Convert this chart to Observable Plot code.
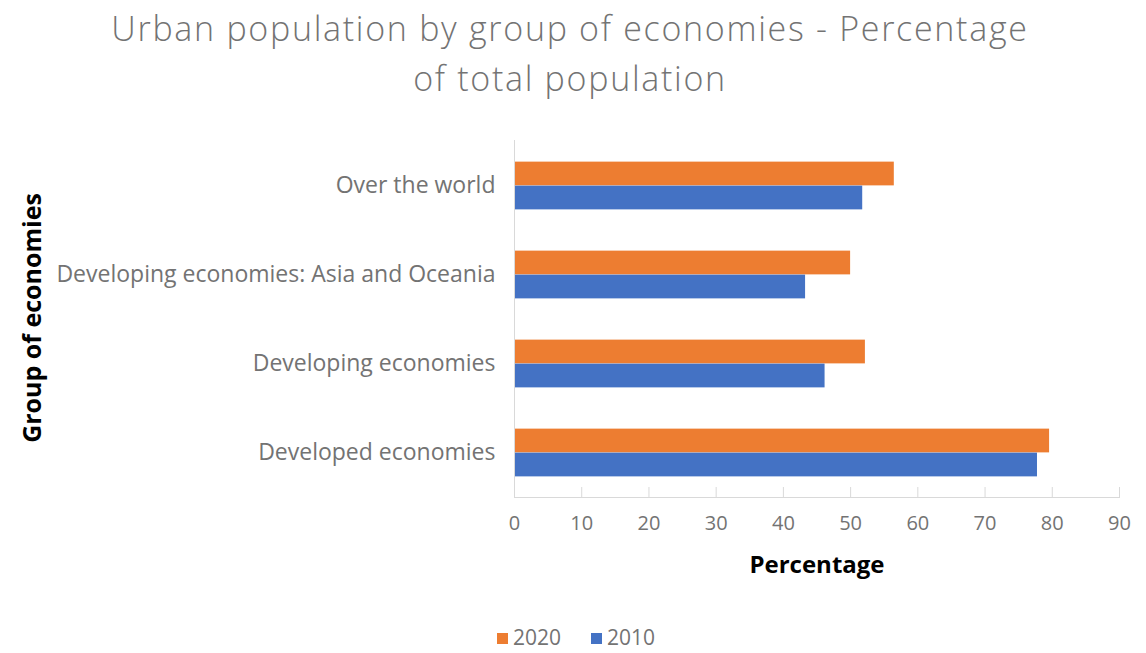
<!DOCTYPE html>
<html>
<head>
<meta charset="utf-8">
<script src="https://cdn.jsdelivr.net/npm/d3@7"></script>
<script src="https://cdn.jsdelivr.net/npm/@observablehq/plot@0.6"></script>
<style>
  body { margin: 0; background: #fff; width: 1146px; height: 653px; overflow: hidden; font-family: "Open Sans", sans-serif; }
  #title { position: absolute; left: 0; top: 3px; width: 1140px; text-align: center; font-size: 34px; line-height: 50px; color: #737373; font-weight: 300; letter-spacing: 1.7px; }
  #chart { position: absolute; left: 0; top: 103px; }
  #ylab { position: absolute; left: 31px; top: 318px; transform: translate(-50%, -50%) rotate(-90deg); white-space: nowrap; font-size: 25px; font-weight: bold; color: #000; }
  #legend { position: absolute; top: 623px; left: 0; width: 1146px; height: 28px; font-size: 21px; color: #737373; }
  .item { position: absolute; top: 0; line-height: 28px; }
  .sw { display: inline-block; width: 11px; height: 11px; margin-right: 5px; vertical-align: 1px; }
</style>
</head>
<body>
<div id="title">Urban population by group of economies - Percentage<br>of total population</div>
<div id="chart"></div>
<div id="ylab">Group of economies</div>
<div id="legend"></div>
<script>
const categories = ["Over the world", "Developing economies: Asia and Oceania", "Developing economies", "Developed economies"];
const values2020 = [56.5, 50.0, 52.2, 79.6];
const values2010 = [51.8, 43.3, 46.2, 77.8];
const seriesNames = ["2020", "2010"];
const seriesColors = ["#ED7D31", "#4472C4"];
const xTicks = [0, 10, 20, 30, 40, 50, 60, 70, 80, 90];

const d2020 = categories.map((c, i) => ({category: c, value: values2020[i]}));
const d2010 = categories.map((c, i) => ({category: c, value: values2010[i]}));

const step = (394 - 37) / 4;
const half = step / 2;
const barH = 24;

const chart = Plot.plot({
  width: 1146,
  height: 500,
  marginLeft: 514,
  marginRight: 27,
  marginTop: 37,
  marginBottom: 106,
  style: {fontFamily: "'Open Sans', sans-serif", color: "#737373", background: "transparent"},
  x: {domain: [0, 90], ticks: xTicks},
  y: {domain: categories, padding: 0},
  marks: [
    Plot.barX(d2020, {x: "value", y: "category", fill: seriesColors[0], insetTop: half - barH, insetBottom: half}),
    Plot.barX(d2010, {x: "value", y: "category", fill: seriesColors[1], insetTop: half, insetBottom: half - barH}),
    Plot.frame({anchor: "left", stroke: "#d9d9d9"}),
    Plot.frame({anchor: "bottom", stroke: "#d9d9d9"}),
    Plot.axisX({ticks: xTicks, tickSize: -10, stroke: "#d9d9d9", tickPadding: 28, fontSize: 20, fill: "#737373", label: null, tickFormat: d => d}),
    Plot.axisY({tickSize: 0, tickPadding: 19, fontSize: 23, fill: "#737373", label: null}),
    Plot.text(["Percentage"], {frameAnchor: "bottom", dy: 75, fontSize: 24, fontWeight: "bold", fill: "#000"})
  ]
});
document.getElementById("chart").appendChild(chart);

const legend = document.getElementById("legend");
const lefts = [497, 591];
seriesNames.forEach((name, i) => {
  const it = document.createElement("div");
  it.className = "item";
  it.style.left = lefts[i] + "px";
  it.innerHTML = `<span class="sw" style="background:${seriesColors[i]}"></span>${name}`;
  legend.appendChild(it);
});
</script>
</body>
</html>
